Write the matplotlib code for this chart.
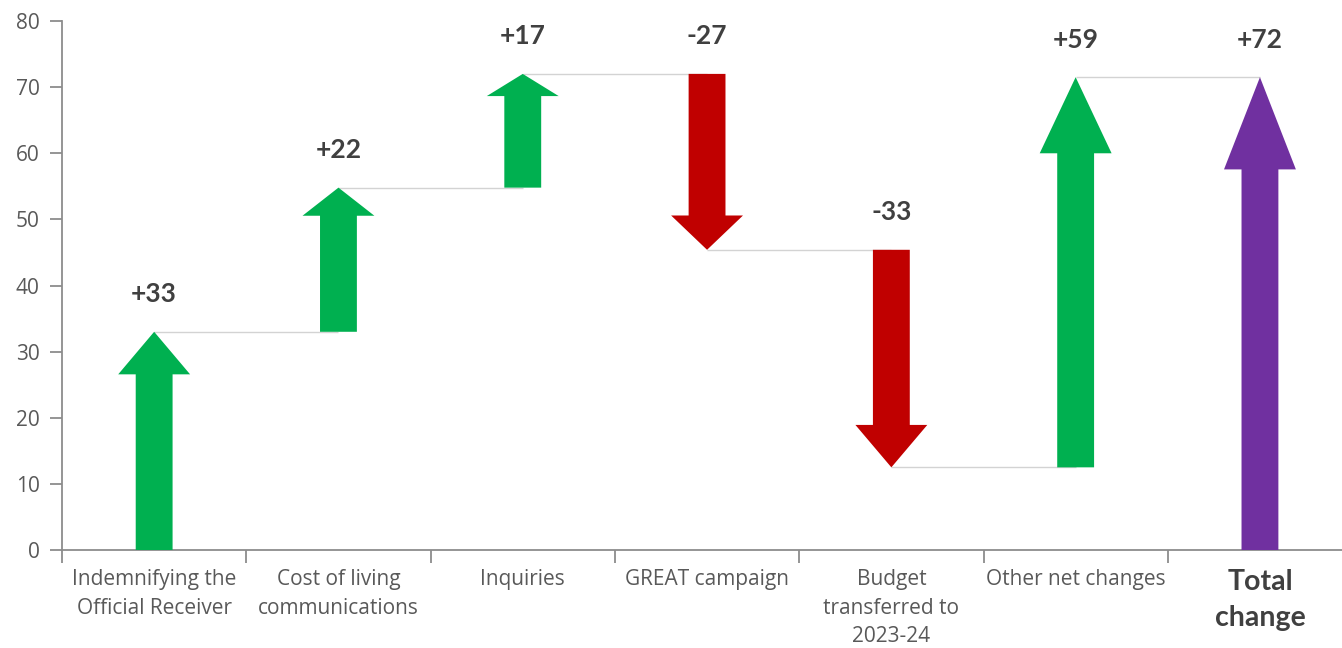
import matplotlib
matplotlib.use("Agg")
import matplotlib.pyplot as plt
from matplotlib.patches import FancyArrow

# Budget changes (£m) and their categories
categories = [
    "Indemnifying the\nOfficial Receiver",
    "Cost of living\ncommunications",
    "Inquiries",
    "GREAT campaign",
    "Budget\ntransferred to\n2023-24",
    "Other net changes",
    "Total\nchange",
]
changes = [33.0, 21.8, 17.2, -26.6, -32.9, 59.0]
total = sum(changes)

GREEN = "#00B050"
RED = "#C00000"
PURPLE = "#7030A0"
LABEL = "#404040"
TICK = "#595959"
AXIS = "#8C8C8C"

plt.rcParams["font.family"] = ["Open Sans", "DejaVu Sans"]

fig = plt.figure(figsize=(13.42, 6.48), dpi=100)
ax = fig.add_axes([62 / 1342, 1 - 550 / 648, 1280 / 1342, (550 - 21) / 648])

# start / end of every arrow
starts, ends = [], []
level = 0.0
for c in changes:
    starts.append(level)
    level += c
    ends.append(level)
starts.append(0.0)
ends.append(total)
values = changes + [total]
colors = [GREEN if c > 0 else RED for c in changes] + [PURPLE]
centers = [i + 0.5 for i in range(len(categories))]

# thin connectors from the tip of one arrow to the next arrow
for i in range(len(centers) - 1):
    ax.plot([centers[i], centers[i + 1]], [ends[i], ends[i]],
            color="#D3D3D3", lw=1.0, zorder=1, solid_capstyle="butt")

for x, s, e, v, col in zip(centers, starts, ends, values, colors):
    length = e - s
    arrow = FancyArrow(x, s, 0, length, width=0.2, head_width=0.39,
                       head_length=abs(length) * 0.195,
                       length_includes_head=True, color=col, lw=0, zorder=3)
    ax.add_patch(arrow)
    top = max(s, e)
    ax.annotate(f"{v:+.0f}", xy=(x, top), xytext=(0, 27),
                textcoords="offset points", ha="center", va="center",
                fontsize=19, fontweight="bold", color=LABEL, family="Lato")

ax.set_ylim(0, 80)
ax.set_xlim(0, 1280 / 184.3)
ax.set_yticks(range(0, 81, 10))

# boundary ticks as major ticks, category names on minor ticks
ax.set_xticks(range(0, 7))
ax.set_xticklabels([])
ax.set_xticks(centers, minor=True)
ax.set_xticklabels(categories, minor=True)
ax.tick_params(axis="x", which="major", direction="out", length=9,
               width=1.3, color=AXIS)
ax.tick_params(axis="x", which="minor", length=0, pad=14,
               labelsize=15, labelcolor=TICK)
ax.tick_params(axis="y", direction="out", length=9, width=1.3, color=AXIS,
               labelsize=15, labelcolor=TICK, pad=7)
for lab in ax.get_xticklabels(minor=True):
    lab.set_linespacing(1.45)
last = ax.get_xticklabels(minor=True)[-1]
last.set_family("Lato")
last.set_fontsize(20.5)
last.set_fontweight("bold")
last.set_color(LABEL)
last.set_linespacing(1.45)

for side in ("top", "right"):
    ax.spines[side].set_visible(False)
for side in ("left", "bottom"):
    ax.spines[side].set_color(AXIS)
    ax.spines[side].set_linewidth(1.3)

fig.savefig("out.png", dpi=100, facecolor="white")
